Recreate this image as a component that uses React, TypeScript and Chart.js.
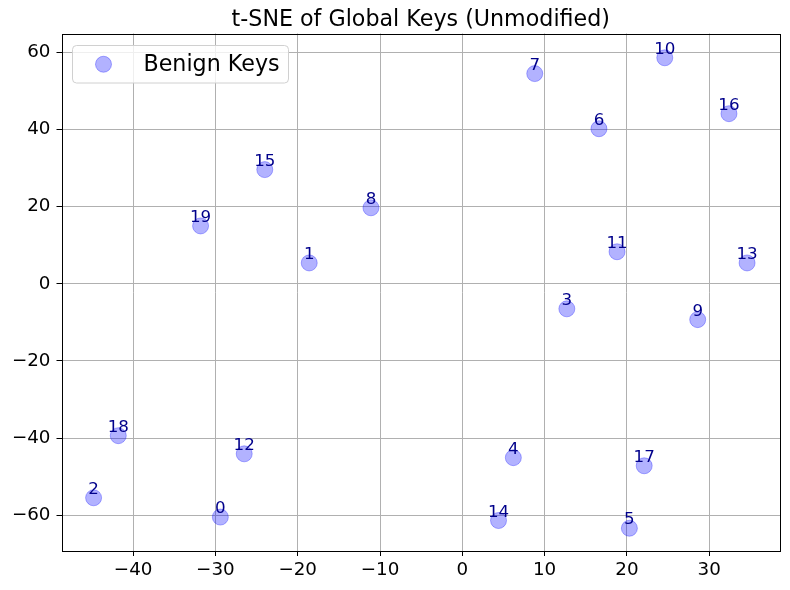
import React, { useEffect, useRef } from 'react';
import { Chart, registerables } from 'chart.js';

Chart.register(...registerables);

const chartTitle = 't-SNE of Global Keys (Unmodified)';
const seriesName = 'Benign Keys';
const pointIds = ['0', '1', '2', '3', '4', '5', '6', '7', '8', '9', '10', '11', '12', '13', '14', '15', '16', '17', '18', '19'];
const xValues = [-29.4, -18.6, -44.8, 12.7, 6.2, 20.3, 16.6, 8.8, -11.1, 28.6, 24.6, 18.8, -26.5, 34.6, 4.4, -24.0, 32.4, 22.1, -41.8, -31.8];
const yValues = [-60.5, 5.4, -55.5, -6.5, -45.1, -63.4, 40.2, 54.5, 19.7, -9.3, 58.6, 8.3, -44.1, 5.4, -61.4, 29.6, 44.1, -47.2, -39.4, 15.0];
const xTickValues = [-40, -30, -20, -10, 0, 10, 20, 30];
const yTickValues = [-60, -40, -20, 0, 20, 40, 60];
const xRange = [-48.7, 38.6];
const yRange = [-69.3, 64.9];

const FONT = '"DejaVu Sans", sans-serif';
const POINT_FILL = 'rgba(0,0,255,0.3)';

const fmt = (v: number) => (v < 0 ? '\u2212' + Math.abs(v) : String(v));

const decorPlugin = {
  id: 'decor',
  afterDatasetsDraw(chart: any) {
    const ctx = chart.ctx;
    const xs = chart.scales.x;
    const ys = chart.scales.y;
    ctx.save();
    ctx.fillStyle = '#00008B';
    ctx.font = `16.7px ${FONT}`;
    ctx.textAlign = 'center';
    ctx.textBaseline = 'alphabetic';
    pointIds.forEach((id, i) => {
      const px = xs.getPixelForValue(xValues[i]);
      const py = ys.getPixelForValue(yValues[i]);
      ctx.fillText(id, px, py - 4);
    });
    ctx.restore();
  },
  afterDraw(chart: any) {
    const ctx = chart.ctx;
    const a = chart.chartArea;
    ctx.save();
    ctx.strokeStyle = '#000';
    ctx.lineWidth = 1;
    ctx.strokeRect(Math.round(a.left) + 0.5, Math.round(a.top) + 0.5, Math.round(a.right - a.left) - 1, Math.round(a.bottom - a.top) - 1);
    ctx.fillStyle = '#000';
    ctx.font = `22.2px ${FONT}`;
    ctx.textAlign = 'center';
    ctx.textBaseline = 'alphabetic';
    ctx.fillText(chartTitle, (a.left + a.right) / 2, 26);
    const lx = a.left + 11, ly = a.top + 12, lw = 216, lh = 37.5, r = 4;
    ctx.beginPath();
    ctx.moveTo(lx + r, ly);
    ctx.lineTo(lx + lw - r, ly);
    ctx.quadraticCurveTo(lx + lw, ly, lx + lw, ly + r);
    ctx.lineTo(lx + lw, ly + lh - r);
    ctx.quadraticCurveTo(lx + lw, ly + lh, lx + lw - r, ly + lh);
    ctx.lineTo(lx + r, ly + lh);
    ctx.quadraticCurveTo(lx, ly + lh, lx, ly + lh - r);
    ctx.lineTo(lx, ly + r);
    ctx.quadraticCurveTo(lx, ly, lx + r, ly);
    ctx.closePath();
    ctx.fillStyle = 'rgba(255,255,255,0.8)';
    ctx.fill();
    ctx.strokeStyle = '#d0d0d0';
    ctx.stroke();
    const cy = ly + lh / 2;
    ctx.beginPath();
    ctx.arc(lx + 31, cy, 8, 0, Math.PI * 2);
    ctx.fillStyle = POINT_FILL;
    ctx.fill();
    ctx.strokeStyle = POINT_FILL;
    ctx.stroke();
    ctx.fillStyle = '#000';
    ctx.font = `22.2px ${FONT}`;
    ctx.textAlign = 'left';
    ctx.textBaseline = 'middle';
    ctx.fillText(seriesName, lx + 71, cy + 1);
    ctx.restore();
  },
};

export default function App() {
  const ref = useRef<HTMLCanvasElement | null>(null);
  useEffect(() => {
    document.body.style.margin = '0';
    if (!ref.current) return;
    const chart = new Chart(ref.current, {
      type: 'scatter',
      data: {
        datasets: [
          {
            label: seriesName,
            data: xValues.map((x, i) => ({ x, y: yValues[i] })),
            backgroundColor: POINT_FILL,
            borderColor: POINT_FILL,
            borderWidth: 1,
            pointRadius: 8,
            pointHoverRadius: 8,
          },
        ],
      },
      options: {
        responsive: false,
        animation: false,
        events: [],
        layout: { padding: { top: 33.5, right: 10, left: 0, bottom: 0 } },
        plugins: {
          legend: { display: false },
          title: { display: false },
          tooltip: { enabled: false },
        },
        scales: {
          x: {
            type: 'linear',
            min: xRange[0],
            max: xRange[1],
            afterBuildTicks: (s: any) => {
              s.ticks = xTickValues.map((v) => ({ value: v }));
            },
            afterFit: (s: any) => {
              s.height = 39;
            },
            border: { display: false },
            grid: { color: '#b0b0b0', lineWidth: 1, tickLength: 5, tickColor: '#000', drawTicks: true },
            ticks: {
              color: '#000',
              font: { family: FONT, size: 18.3 },
              padding: 3,
              maxRotation: 0,
              callback: (v: any) => fmt(Number(v)),
            },
          },
          y: {
            type: 'linear',
            min: yRange[0],
            max: yRange[1],
            afterBuildTicks: (s: any) => {
              s.ticks = yTickValues.map((v) => ({ value: v }));
            },
            afterFit: (s: any) => {
              s.width = 61.5;
            },
            border: { display: false },
            grid: { color: '#b0b0b0', lineWidth: 1, tickLength: 5, tickColor: '#000', drawTicks: true },
            ticks: {
              color: '#000',
              font: { family: FONT, size: 18.3 },
              padding: 6,
              callback: (v: any) => fmt(Number(v)),
            },
          },
        },
      },
      plugins: [decorPlugin],
    } as any);
    return () => chart.destroy();
  }, []);
  return <canvas ref={ref} width={790} height={590} style={{ display: 'block' }} />;
}
